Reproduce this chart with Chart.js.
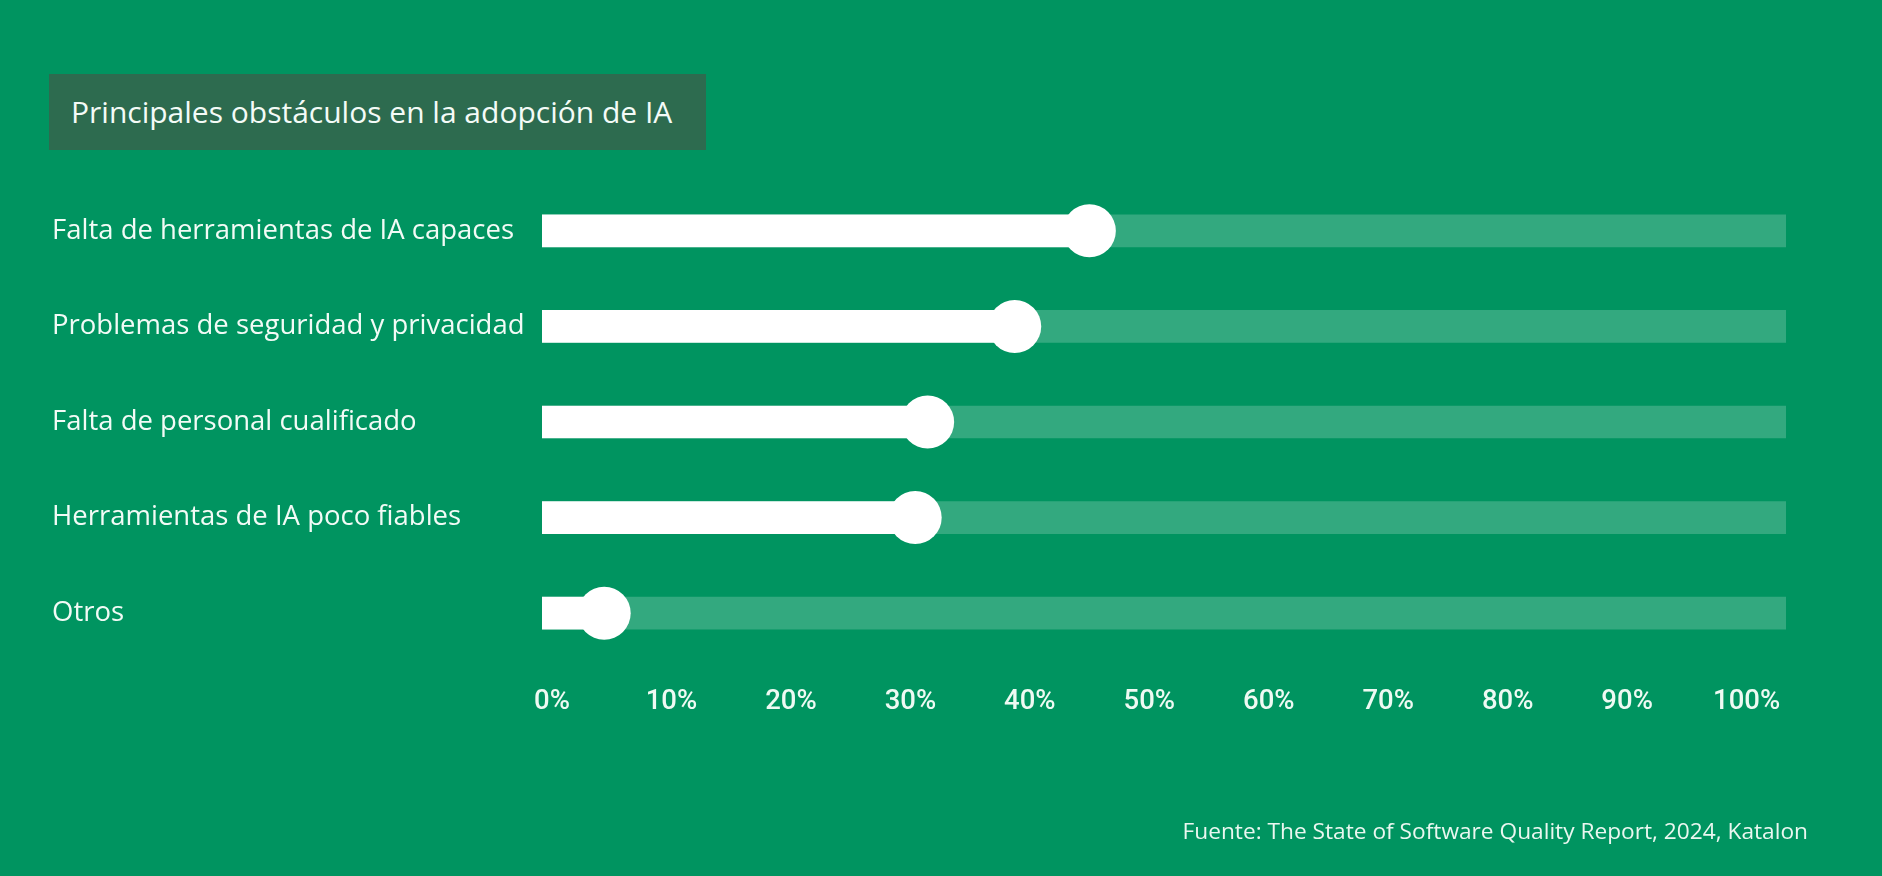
<!DOCTYPE html>
<html lang="es">
<head>
  <meta charset="UTF-8" />
  <title>Principales obstáculos en la adopción de IA</title>
  <script src="https://cdn.jsdelivr.net/npm/chart.js@4.4.1/dist/chart.umd.min.js"></script>
  <style>
    * { box-sizing: border-box; }
    html, body { margin: 0; padding: 0; }
    body { width: 1882px; height: 876px; background: #009460; position: relative; overflow: hidden; font-family: 'Open Sans', sans-serif; }
    .title-box { position: absolute; left: 49px; top: 74px; width: 657px; height: 76px; background: #2d6b4f; color: #f4fbf7; font-size: 30px; line-height: 76px; padding-left: 22px; white-space: nowrap; }
    .source { position: absolute; right: 74px; top: 815px; color: #eaf7f0; font-size: 22.7px; white-space: nowrap; }
    .chart-wrap { position: absolute; left: 0; top: 0; width: 1882px; height: 876px; }
  </style>
</head>
<body>
  <div class="chart-wrap"><canvas id="chartObstacles"></canvas></div>
  <div class="title-box">Principales obstáculos en la adopción de IA</div>
  <div class="source">Fuente: The State of Software Quality Report, 2024, Katalon</div>

  <script>
    const categories = [
      'Falta de herramientas de IA capaces',
      'Problemas de seguridad y privacidad',
      'Falta de personal cualificado',
      'Herramientas de IA poco fiables',
      'Otros'
    ];
    const values = [44, 38, 31, 30, 5];
    const trackValues = [100, 100, 100, 100, 100];
    const tickValues = [0, 10, 20, 30, 40, 50, 60, 70, 80, 90, 100];

    new Chart(document.getElementById('chartObstacles'), {
      type: 'bar',
      data: {
        labels: categories,
        datasets: [
          {
            type: 'line',
            label: 'knob',
            indexAxis: 'y',
            data: values,
            showLine: false,
            pointRadius: 26.5,
            pointHoverRadius: 26.5,
            pointBackgroundColor: '#ffffff',
            pointBorderWidth: 0,
            clip: false,
            order: 1
          },
          {
            type: 'bar',
            label: 'value',
            data: values,
            backgroundColor: '#ffffff',
            barThickness: 32,
            grouped: false,
            order: 2
          },
          {
            type: 'bar',
            label: 'track',
            data: trackValues,
            backgroundColor: 'rgba(255, 255, 255, 0.2)',
            barThickness: 32,
            grouped: false,
            order: 3
          }
        ]
      },
      options: {
        indexAxis: 'y',
        responsive: true,
        maintainAspectRatio: false,
        animation: false,
        events: [],
        layout: { padding: { left: 52, right: 96, top: 183, bottom: 140 } },
        plugins: { legend: { display: false }, tooltip: { enabled: false } },
        scales: {
          x: {
            type: 'linear',
            display: false,
            min: 0,
            max: 100
          },
          x2: {
            type: 'linear',
            position: 'bottom',
            min: -0.84,
            max: 103.3,
            grid: { display: false },
            border: { display: false },
            afterBuildTicks: (scale) => { scale.ticks = tickValues.map((v) => ({ value: v })); },
            ticks: {
              color: '#eefaf3',
              padding: 17,
              maxRotation: 0,
              autoSkip: false,
              font: { family: 'Roboto', size: 27.5, weight: '500', lineHeight: 1.2 },
              callback: (v) => v + '%'
            }
          },
          y: {
            type: 'category',
            position: 'left',
            grid: { display: false },
            border: { display: false },
            afterFit: (scale) => { scale.width = 490; },
            ticks: {
              color: '#f2fbf6',
              crossAlign: 'far',
              padding: 0,
              font: { family: 'Open Sans', size: 27.5 }
            }
          }
        }
      }
    });
  </script>
</body>
</html>
